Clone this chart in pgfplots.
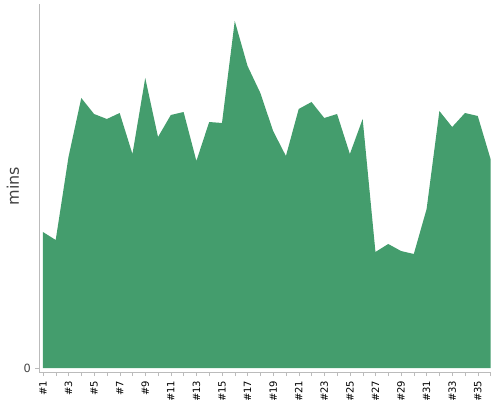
\documentclass[border=0pt]{standalone}
\usepackage{pgfplots}
\pgfplotsset{compat=1.18}
\usepackage{fontspec}
\setmainfont{DejaVu Sans}
\definecolor{areaGreen}{HTML}{449D6D}
\definecolor{axisGray}{HTML}{BBBBBB}
\definecolor{labelGray}{HTML}{444444}

\begin{document}
\begin{tikzpicture}
\begin{axis}[
  at={(0,0)}, anchor=south west,
  scale only axis, width=338.6pt, height=276pt,
  xmin=0.73, xmax=36.03, ymin=-0.4, ymax=36.4,
  axis lines=left, axis line style={draw=axisGray,-},
  xtick={1,3,...,35},
  xticklabels={\#1,\#3,\#5,\#7,\#9,\#11,\#13,\#15,\#17,\#19,\#21,\#23,\#25,\#27,\#29,\#31,\#33,\#35},
  minor xtick={2,4,...,36},
  tick align=outside, tick style={draw=axisGray},
  major tick length=3pt, minor tick length=3pt,
  x tick label style={rotate=90, anchor=east, font=\fontsize{7.5}{8}\selectfont, text=black},
  ytick={0},
  /pgf/number format/assume math mode=true,
  y tick label style={font=\fontsize{8.5}{9}\selectfont, text=labelGray},
  ylabel={mins},
  ylabel style={at={(axis description cs:0,0.505)}, anchor=center, yshift=20pt,
                font=\fontsize{12}{14}\selectfont, text=labelGray},
]
% values in minutes, #1 .. #36
\addplot[fill=areaGreen, draw=none] coordinates {
  (1,0)
  (1,13.6) (2,12.8) (3,21.1) (4,27.0) (5,25.4) (6,24.9) (7,25.5) (8,21.4)
  (9,29.0) (10,23.1) (11,25.3) (12,25.6) (13,20.7) (14,24.6) (15,24.5) (16,34.7)
  (17,30.2) (18,27.5) (19,23.7) (20,21.2) (21,25.9) (22,26.6) (23,25.0) (24,25.4)
  (25,21.4) (26,24.9) (27,11.6) (28,12.4) (29,11.7) (30,11.4) (31,15.9) (32,25.7)
  (33,24.1) (34,25.5) (35,25.2) (36,20.9)
  (36,0)
} -- cycle;
\end{axis}
\pgfresetboundingbox
\path[use as bounding box] (-29.6pt,-21pt) rectangle (345.4pt,279pt);
\end{tikzpicture}
\end{document}
